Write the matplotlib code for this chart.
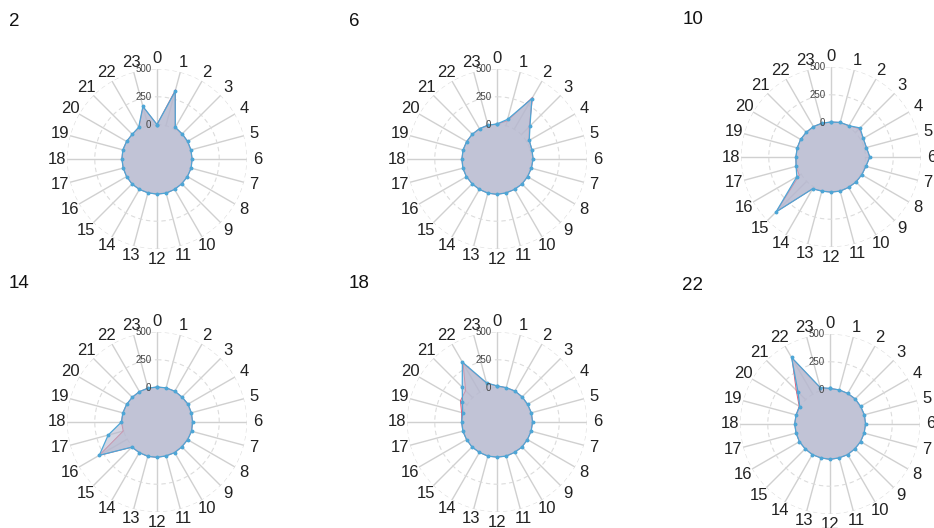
import numpy as np
import matplotlib
matplotlib.use("Agg")
import matplotlib.pyplot as plt
import matplotlib.transforms as mtransforms

plt.rcParams['font.family'] = ['Liberation Sans', 'DejaVu Sans']

hours = list(range(24))
panel_titles = ['2', '6', '10', '14', '18', '22']
radial_ticks = [0, 250, 500]

# one list per panel, values per hour 0..23
blue_values = [
    [0, 320, 20, 10, 8, 6, 6, 8, 6, 5, 6, 8, 6, 5, 6, 8, 6, 5, 6, 8, 6, 5, 20, 180],
    [5, 60, 318, 110, 25, 15, 15, 10, 8, 8, 6, 6, 8, 8, 6, 6, 8, 8, 6, 6, 5, 5, 5, 5],
    [5, 12, 15, 60, 25, 20, 40, 15, 10, 8, 6, 8, 6, 8, 20, 390, 45, 15, 6, 5, 6, 5, 6, 5],
    [5, 8, 10, 8, 12, 10, 10, 12, 8, 6, 8, 6, 8, 10, 8, 10, 290, 145, 10, 8, 6, 5, 6, 5],
    [15, 10, 12, 10, 8, 10, 10, 8, 6, 8, 6, 8, 6, 8, 6, 8, 6, 8, 8, 10, 49, 132, 313, 55],
    [10, 8, 8, 10, 8, 10, 10, 8, 8, 6, 8, 6, 8, 6, 8, 6, 8, 6, 8, 6, 5, 97, 382, 30],
]
red_values = [
    [0, 335, 15, 10, 8, 6, 6, 8, 6, 5, 6, 8, 6, 5, 6, 8, 6, 5, 6, 8, 6, 5, 15, 175],
    [5, 45, 330, 100, 25, 15, 15, 10, 8, 8, 6, 6, 8, 8, 6, 6, 8, 8, 6, 6, 5, 5, 5, 5],
    [5, 12, 15, 50, 25, 20, 38, 15, 10, 8, 6, 8, 6, 8, 20, 385, 20, 15, 6, 5, 6, 5, 6, 5],
    [5, 8, 10, 8, 12, 10, 10, 12, 8, 6, 8, 6, 8, 10, 8, 10, 292, 5, 10, 8, 6, 5, 6, 5],
    [15, 10, 12, 10, 8, 10, 10, 8, 6, 8, 6, 8, 6, 8, 6, 8, 6, 8, 8, 20, 70, 90, 300, 50],
    [10, 8, 8, 10, 8, 10, 10, 8, 8, 6, 8, 6, 8, 6, 8, 6, 8, 6, 8, 6, 10, 120, 375, 25],
]

r_min = -310
r_max = 500

# panel centres in pixels (from top-left) and outer radius
W, H = 934, 528
centres = [(157, 159), (497, 159), (831, 157), (157, 422), (497, 422), (830, 424)]
radius = 90

fill_color = '#b6b8cf'
blue = '#4ea6d6'
red = '#e2607a'
grid_color = '#d0d0d0'

fig = plt.figure(figsize=(W / 100, H / 100), dpi=100)
fig.patch.set_facecolor('white')

theta = np.deg2rad(np.array(hours) * 15.0)
theta_closed = np.append(theta, theta[0])

for i, title in enumerate(panel_titles):
    cx, cy = centres[i]
    rect = [(cx - radius) / W, (H - cy - radius) / H, 2 * radius / W, 2 * radius / H]
    ax = fig.add_axes(rect, projection='polar')
    ax.set_theta_zero_location('N')
    ax.set_theta_direction(-1)
    ax.set_ylim(r_min, r_max)

    # spokes start at the zero ring
    for t in theta:
        ax.plot([t, t], [radial_ticks[0], r_max], color=grid_color, lw=1.0, zorder=1)

    b = np.append(blue_values[i], blue_values[i][0])
    r = np.append(red_values[i], red_values[i][0])

    # red trace first, the blue one is laid over it
    ax.fill(theta_closed, r, color=fill_color, alpha=0.6, lw=0, zorder=2)
    ax.plot(theta_closed, r, color=red, lw=0.7, zorder=2)
    ax.fill(theta_closed, b, color=fill_color, alpha=0.6, lw=0, zorder=3)
    ax.plot(theta_closed, b, color=blue, lw=0.9, marker='o', ms=1.8, zorder=3)

    ax.set_xticks(theta)
    ax.set_xticklabels([str(h) for h in hours], fontsize=12, color='#222222')
    ax.tick_params(axis='x', pad=-3)
    ax.set_yticks(radial_ticks)
    ax.set_yticklabels([])
    ax.xaxis.grid(False)
    ax.yaxis.grid(True, color='#dcdcdc', lw=0.8, ls=(0, (4, 3)))
    for sp in ax.spines.values():
        sp.set_visible(False)

    # radial tick labels just left of the 0 spoke
    shift = mtransforms.ScaledTranslation(-4 / 72, 0, fig.dpi_scale_trans)
    for v in radial_ticks:
        ax.text(0, v, str(v), transform=ax.transData + shift, ha='right',
                va='center', fontsize=7, color='#444444', zorder=5)

    fig.text((cx - 148) / W, 1 - (cy - 138) / H, title, fontsize=13.5,
             ha='left', va='center', color='#111111')

fig.savefig('out.png', dpi=100, facecolor='white')
